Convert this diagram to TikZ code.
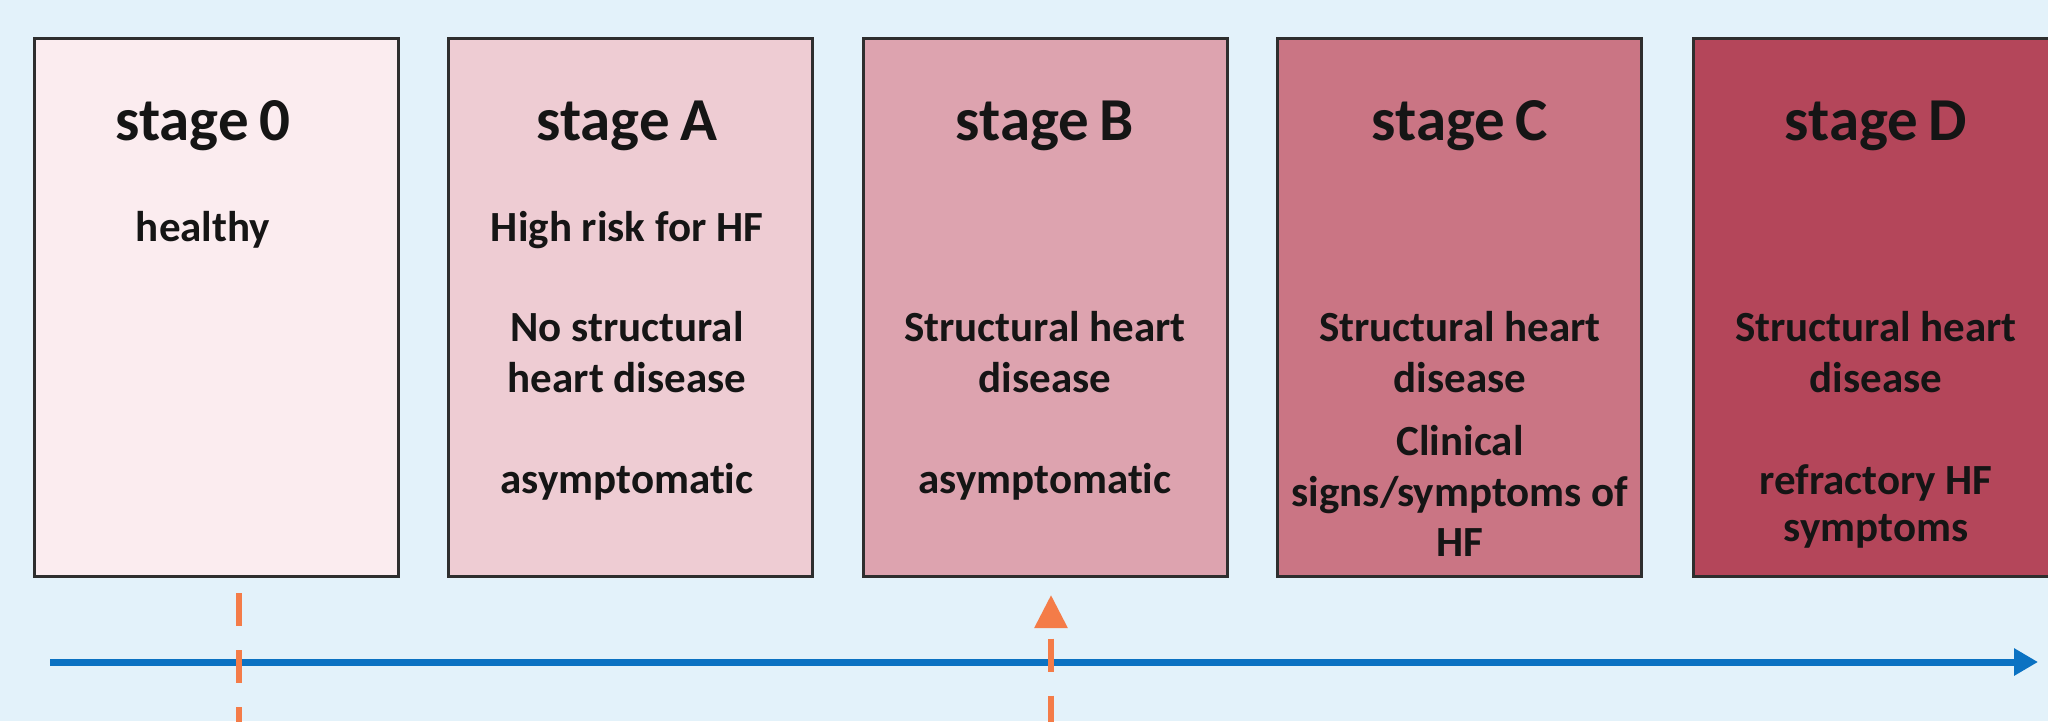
\documentclass[tikz,border=0pt]{standalone}
\usepackage{fontspec}
\setmainfont{Carlito}[Ligatures=NoCommon]
\usetikzlibrary{arrows.meta}
\definecolor{bgblue}{HTML}{E3F2FA}
\definecolor{boxline}{HTML}{2E2E2E}
\definecolor{ink}{HTML}{151515}
\definecolor{fillzero}{HTML}{FBECEF}
\definecolor{fillA}{HTML}{EECCD3}
\definecolor{fillB}{HTML}{DDA3AF}
\definecolor{fillC}{HTML}{CA7584}
\definecolor{fillD}{HTML}{B4465A}
\definecolor{axisblue}{HTML}{0B72C2}
\definecolor{markorange}{HTML}{F47C48}
\begin{document}
\begin{tikzpicture}[x=1pt,y=-1pt,
  stagebox/.style={draw=boxline, line width=3pt, minimum width=364pt, minimum height=538pt, inner sep=0pt},
  title/.style={anchor=base, font=\fontsize{61}{72}\selectfont\bfseries, text=ink, inner sep=0pt},
  body/.style={anchor=base, font=\fontsize{43}{51}\selectfont\bfseries, text=ink, inner sep=0pt},
  axisline/.style={draw=axisblue, line width=7pt, -{Triangle[length=24pt,width=26pt]}},
  marker/.style={draw=markorange, line width=6pt, dash pattern=on 33pt off 24pt}]
\useasboundingbox (0,0) rectangle (2048,721);
\clip (0,0) rectangle (2048,721);
\fill[bgblue] (0,0) rectangle (2048,721);
% boxes
\node[stagebox, fill=fillzero] (s0) at (216,307) {};
\node[stagebox, fill=fillA] (sA) at (630.5,307) {};
\node[stagebox, fill=fillB] (sB) at (1045,307) {};
\node[stagebox, fill=fillC] (sC) at (1459.5,307) {};
\node[stagebox, fill=fillD] (sD) at (1875,307) {};
% stage 0
\node[title] (t0) at (203,140) {stage\kern-0.05em{} 0};
\node[body] (b0a) at (203,241) {healthy};
% stage A
\node[title] (tA) at (627,140) {stage\kern-0.05em{} A};
\node[body] (bAa) at (627,241) {High risk for HF};
\node[body] (bAb) at (627,341) {No structural};
\node[body] (bAc) at (627,392) {heart disease};
\node[body] (bAd) at (627,493) {asymptomatic};
% stage B
\node[title] (tB) at (1045,140) {stage\kern-0.05em{} B};
\node[body] (bBa) at (1045,341) {Structural heart};
\node[body] (bBb) at (1045,392) {disease};
\node[body] (bBc) at (1045,493) {asymptomatic};
% stage C
\node[title] (tC) at (1460,140) {stage\kern-0.05em{} C};
\node[body] (bCa) at (1460,341) {Structural heart};
\node[body] (bCb) at (1460,392) {disease};
\node[body] (bCc) at (1460,455) {Clinical};
\node[body] (bCd) at (1460,506) {signs/symptoms of};
\node[body] (bCe) at (1460,556) {HF};
% stage D
\node[title] (tD) at (1876,140) {stage\kern-0.05em{} D};
\node[body] (bDa) at (1876,341) {Structural heart};
\node[body] (bDb) at (1876,392) {disease};
\node[body] (bDc) at (1876,494) {refractory HF};
\node[body] (bDd) at (1876,541) {symptoms};
% time axis
\coordinate (axs) at (50,662);
\coordinate (axe) at (2038,662);
\draw[axisline] (axs) -- (axe);
% markers
\coordinate (m0top) at (239,593);
\coordinate (m0bot) at (239,770);
\draw[marker] (m0top) -- (m0bot);
\coordinate (mBtip) at (1051,595);
\coordinate (mBbot) at (1051,770);
\draw[marker, dash phase=45pt, {Triangle[length=33pt,width=32pt]}-] (mBtip) -- (mBbot);
\end{tikzpicture}
\end{document}
